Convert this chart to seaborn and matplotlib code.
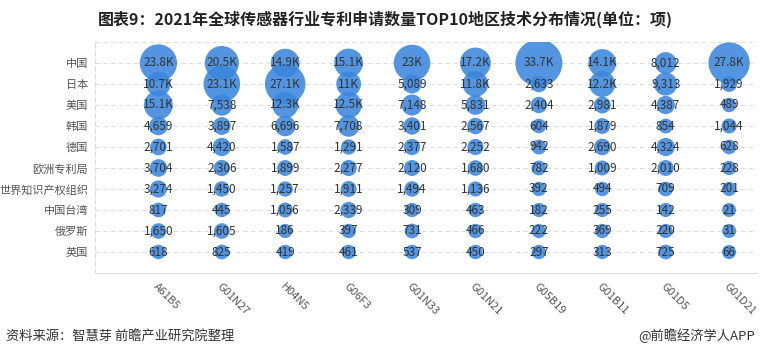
import pandas as pd
import matplotlib
matplotlib.use("Agg")
import matplotlib.pyplot as plt
import seaborn as sns

sns.set_theme(style="white")
plt.rcParams['font.family'] = ['Noto Sans CJK SC', 'DejaVu Sans']

# Dados
codigos = ['A61B5', 'G01N27', 'H04N5', 'G06F3', 'G01N33',
           'G01N21', 'G05B19', 'G01B11', 'G01D5', 'G01D21']
regioes = ['中国', '日本', '美国', '韩国', '德国', '欧洲专利局',
           '世界知识产权组织', '中国台湾', '俄罗斯', '英国']

china = [23800, 20500, 14900, 15100, 23000, 17200, 33700, 14100, 8012, 27800]
japao = [10700, 23100, 27100, 11000, 5089, 11800, 2633, 12200, 9313, 1929]
eua = [15100, 7538, 12300, 12500, 7148, 5831, 2404, 2981, 4387, 489]
coreia = [4659, 3897, 6696, 7708, 3401, 2567, 604, 1879, 854, 1044]
alemanha = [2701, 4420, 1587, 1291, 2377, 2252, 942, 2690, 4324, 628]
epo = [3704, 2306, 1899, 2277, 2120, 1680, 782, 1009, 2010, 228]
wipo = [3274, 1450, 1257, 1911, 1494, 1136, 392, 494, 709, 201]
taiwan = [817, 445, 1056, 2339, 309, 463, 182, 255, 142, 21]
russia = [1650, 1605, 186, 397, 731, 466, 222, 369, 220, 31]
reino_unido = [618, 825, 419, 461, 537, 450, 297, 313, 725, 66]

linhas = [china, japao, eua, coreia, alemanha, epo, wipo, taiwan, russia, reino_unido]

dados = []
for regiao, valores in zip(regioes, linhas):
    for codigo, v in zip(codigos, valores):
        dados.append([codigo, regiao, v])
df = pd.DataFrame(dados, columns=['codigo', 'regiao', 'valor'])


def rotulo(v):
    if v >= 10000:
        s = f"{v / 1000:.1f}".rstrip('0').rstrip('.')
        return s + "K"
    return f"{v:,}"


# tamanho da bolha: diametro (px) cresce linearmente com o valor
tamanhos = {v: ((14 + 0.00098 * v) * 0.72) ** 2 for v in df['valor'].unique()}

fig = plt.figure(figsize=(7.6, 3.57), dpi=100)
ax = fig.add_axes([95 / 760, 84 / 357, 662 / 760, 231 / 357])

sns.scatterplot(
    data=df, x='codigo', y='regiao', size='valor', sizes=tamanhos,
    color='#3b87dc', alpha=0.88, edgecolor='none', legend=False, ax=ax, zorder=3
)

for _, r in df.iterrows():
    ax.text(codigos.index(r['codigo']), regioes.index(r['regiao']), rotulo(r['valor']),
            ha='center', va='center', fontsize=8.5, color='#333333', zorder=4)

ax.set_xlim(-1, 9.44)
ax.set_ylim(10, -1)
ax.set_xlabel('')
ax.set_ylabel('')

for i in range(len(regioes)):
    ax.axhline(i, color='#dddddd', lw=0.8, ls=(0, (4, 3)), zorder=1)
ax.axhline(-1, color='#dddddd', lw=0.8, ls=(0, (4, 3)), zorder=1)

ax.spines['top'].set_visible(False)
ax.spines['right'].set_visible(False)
ax.spines['left'].set_color('#dddddd')
ax.spines['left'].set_linestyle((0, (4, 3)))
ax.spines['left'].set_linewidth(0.8)
ax.spines['bottom'].set_color('#dddddd')
ax.spines['bottom'].set_linewidth(0.8)

ax.tick_params(axis='y', length=0, pad=5, labelsize=8, labelcolor='#555555')
ax.tick_params(axis='x', length=3, color='#dddddd', pad=3, labelsize=8, labelcolor='#555555')
ax.set_xticks(range(len(codigos)))
ax.set_xticklabels(codigos, rotation=-45, ha='left', rotation_mode='anchor')
ax.set_yticks(range(len(regioes)))
ax.set_yticklabels(regioes)

fig.text(385 / 760, 1 - 19 / 357, '图表9：2021年全球传感器行业专利申请数量TOP10地区技术分布情况(单位：项)',
         ha='center', va='center', fontsize=11.5, fontweight='bold', color='#222222')
fig.text(6 / 760, 1 - 336 / 357, '资料来源：智慧芽 前瞻产业研究院整理',
         ha='left', va='center', fontsize=9.5, color='#333333')
fig.text(755 / 760, 1 - 336 / 357, '@前瞻经济学人APP',
         ha='right', va='center', fontsize=9.5, color='#333333')

plt.savefig('out.png', dpi=100)
